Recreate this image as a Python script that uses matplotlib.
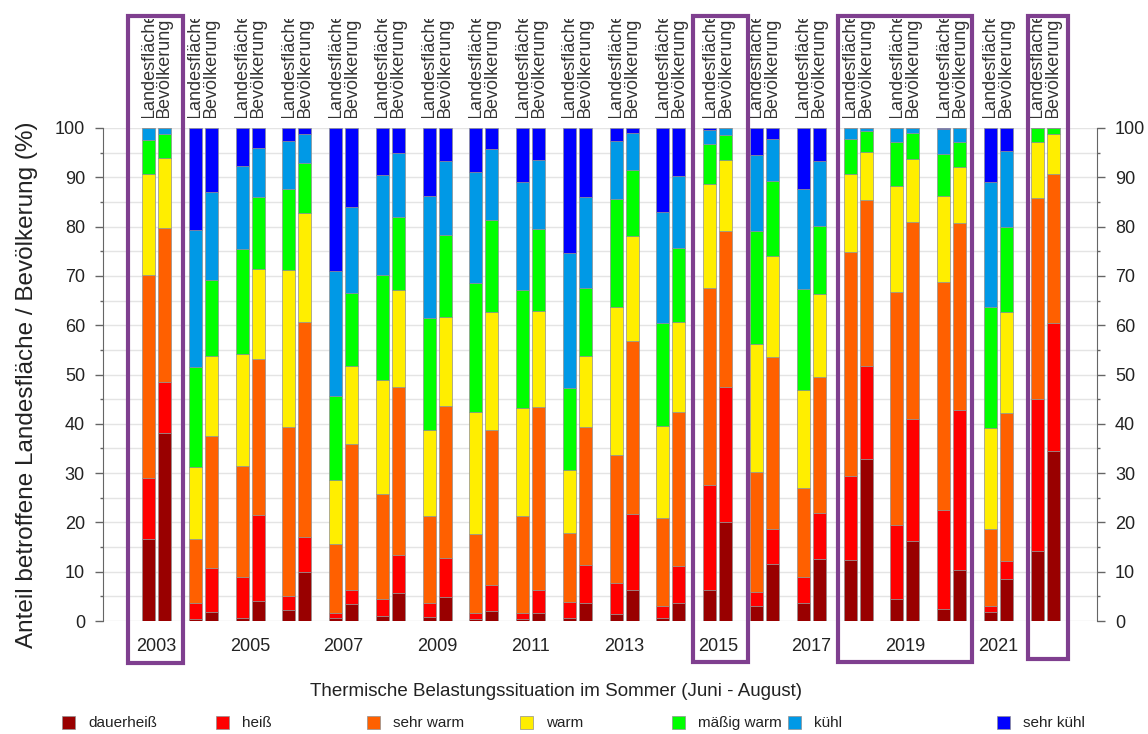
import numpy as np
import matplotlib
matplotlib.use("Agg")
import matplotlib.pyplot as plt
from matplotlib.patches import Rectangle
import matplotlib.transforms as mtransforms

plt.rcParams["font.family"] = ["Liberation Sans", "DejaVu Sans"]

# -----------------------------
# Data (share in %, per class)
# -----------------------------
years = list(range(2003, 2023))

classes = ["dauerheiß", "heiß", "sehr warm", "warm", "mäßig warm", "kühl", "sehr kühl"]
colors = ["#990000", "#ff0000", "#ff6000", "#ffee00", "#00ff00", "#0099e6", "#0000ff"]

# Landesfläche
flaeche_dauerheiss = [16.6, 0.5, 0.7, 2.2, 0.7, 1.1, 0.9, 0.5, 0.5, 0.7, 1.4, 0.7, 6.2, 3.0, 3.7, 12.4, 4.4, 2.4, 1.9, 14.2]
flaeche_heiss = [12.5, 3.1, 8.3, 2.9, 1.0, 3.4, 2.7, 1.1, 1.2, 3.2, 6.4, 2.3, 21.4, 2.9, 5.3, 17.0, 15.1, 20.1, 1.1, 30.8]
flaeche_sehr_warm = [41.1, 13.0, 22.5, 34.3, 13.9, 21.2, 17.6, 16.0, 19.5, 14.0, 25.9, 17.8, 40.0, 24.3, 17.9, 45.5, 47.3, 46.2, 15.7, 40.9]
flaeche_warm = [20.5, 14.7, 22.6, 31.8, 12.9, 23.2, 17.5, 24.7, 22.0, 12.7, 29.9, 18.8, 21.0, 26.0, 20.0, 15.8, 21.5, 17.5, 20.5, 11.3]
flaeche_maessig = [6.9, 20.3, 21.3, 16.5, 17.2, 21.3, 22.7, 26.2, 23.9, 16.7, 21.9, 20.9, 8.1, 23.0, 20.4, 7.0, 8.8, 8.5, 24.4, 2.8]
flaeche_kuehl = [2.4, 27.7, 16.9, 9.7, 25.2, 20.3, 24.8, 22.5, 22.0, 27.4, 11.9, 22.5, 2.9, 15.4, 20.4, 2.3, 2.9, 5.0, 25.4, 0.0]
flaeche_sehr_kuehl = [0.0, 20.7, 7.7, 2.6, 29.1, 9.5, 13.8, 9.0, 10.9, 25.3, 2.6, 17.0, 0.4, 5.4, 12.3, 0.0, 0.0, 0.3, 11.0, 0.0]

# Bevölkerung
bev_dauerheiss = [38.1, 1.9, 4.1, 10.0, 3.4, 5.6, 4.9, 2.0, 1.6, 3.6, 6.3, 3.6, 20.1, 11.6, 12.5, 32.8, 16.3, 10.3, 8.5, 34.5]
bev_heiss = [10.3, 8.8, 17.5, 7.0, 2.8, 7.8, 7.9, 5.3, 4.7, 7.8, 15.5, 7.6, 27.4, 7.0, 9.5, 18.9, 24.6, 32.4, 3.7, 26.0]
bev_sehr_warm = [31.4, 26.8, 31.5, 43.6, 29.7, 34.1, 30.9, 31.4, 37.1, 27.9, 34.9, 31.1, 31.6, 35.0, 27.4, 33.7, 40.0, 38.0, 29.9, 30.2]
bev_warm = [14.2, 16.3, 18.3, 22.1, 15.9, 19.6, 18.0, 24.0, 19.5, 14.5, 21.4, 18.4, 14.4, 20.4, 16.9, 9.7, 12.9, 11.4, 20.6, 8.0]
bev_maessig = [4.7, 15.4, 14.7, 10.1, 14.7, 14.9, 16.6, 18.6, 16.6, 13.7, 13.4, 14.9, 5.0, 15.3, 13.8, 4.2, 5.2, 5.0, 17.3, 1.3]
bev_kuehl = [1.3, 17.9, 9.9, 6.0, 17.4, 13.0, 15.1, 14.4, 14.0, 18.6, 7.5, 14.7, 1.5, 8.4, 13.3, 0.7, 1.0, 2.9, 15.3, 0.0]
bev_sehr_kuehl = [0.0, 12.9, 4.0, 1.2, 16.1, 5.0, 6.6, 4.3, 6.5, 13.9, 1.0, 9.7, 0.0, 2.3, 6.6, 0.0, 0.0, 0.0, 4.7, 0.0]

flaeche = [flaeche_dauerheiss, flaeche_heiss, flaeche_sehr_warm, flaeche_warm,
           flaeche_maessig, flaeche_kuehl, flaeche_sehr_kuehl]
bevoelkerung = [bev_dauerheiss, bev_heiss, bev_sehr_warm, bev_warm,
                bev_maessig, bev_kuehl, bev_sehr_kuehl]

# highlighted years (first, last, left / right offset of the purple frame, bottom in px)
highlights = [(2003, 2003, -0.60, 0.57, 663),
              (2015, 2015, -0.53, 0.65, 662),
              (2018, 2020, -0.42, 0.44, 662),
              (2022, 2022, -0.36, 0.49, 659)]

# -----------------------------
# Figure
# -----------------------------
W, H = 1148, 734
fig = plt.figure(figsize=(W / 100, H / 100), dpi=100)

ax = fig.add_axes([103 / W, (H - 621) / H, (1097 - 103) / W, (621 - 128) / H])

x = np.array(years, dtype=float)
off = 0.171
width = 0.278

bottom_l = np.zeros(len(years))
bottom_b = np.zeros(len(years))
for vals_l, vals_b, col in zip(flaeche, bevoelkerung, colors):
    ax.bar(x - off, vals_l, width, bottom=bottom_l, color=col,
           edgecolor="#909090", linewidth=0.5, zorder=3)
    ax.bar(x + off, vals_b, width, bottom=bottom_b, color=col,
           edgecolor="#909090", linewidth=0.5, zorder=3)
    bottom_l += np.array(vals_l)
    bottom_b += np.array(vals_b)

ax.set_xlim(2001.856, 2023.11)
ax.set_ylim(0, 100)

# grid every 5 %
for g in range(0, 101, 5):
    ax.axhline(g, color="#e4e4e4", linewidth=1, zorder=0)

ax.spines["top"].set_visible(False)
ax.spines["bottom"].set_visible(False)
for s in ["left", "right"]:
    ax.spines[s].set_color("#666666")
    ax.spines[s].set_bounds(0, 100)

ax.set_yticks(range(0, 101, 10))
ax.set_yticks(range(5, 100, 10), minor=True)
ax.tick_params(axis="y", which="major", length=6, width=1, color="#666666",
               labelsize=13, labelcolor="#222222", pad=7,
               left=True, right=True, labelleft=True, labelright=True)
ax.tick_params(axis="y", which="minor", length=2.5, width=1, color="#666666",
               left=True, right=True)

ax.set_xticks(years[::2])
ax.set_xticklabels([str(y) for y in years[::2]])
ax.tick_params(axis="x", length=0, labelsize=13, labelcolor="#222222", pad=12)

ax.set_ylabel("Anteil betroffene Landesfläche / Bevölkerung (%)", fontsize=17.5,
              color="#222222")
ax.yaxis.set_label_coords(-0.065, 0.48)

# -----------------------------
# Column headers (clipped at the top like the original)
# -----------------------------
hax = fig.add_axes([103 / W, (H - 118) / H, (1097 - 103) / W, (118 - 19) / H])
hax.set_xlim(ax.get_xlim())
hax.set_ylim(0, 1)
hax.axis("off")
for yr in years:
    hax.text(yr - off, 0, "Landesfläche", rotation=90, ha="center", va="bottom",
             fontsize=13, color="#333333", clip_on=True)
    hax.text(yr + off, 0, "Bevölkerung", rotation=90, ha="center", va="bottom",
             fontsize=13, color="#333333", clip_on=True)

# -----------------------------
# Purple frames
# -----------------------------
trans = mtransforms.blended_transform_factory(ax.transData, fig.transFigure)
top_y = (H - 16) / H
for y0, y1, lo, hi, bot in highlights:
    bot_y = (H - bot) / H
    rect = Rectangle((y0 + lo, bot_y), (y1 + hi) - (y0 + lo), top_y - bot_y,
                     transform=trans, fill=False, edgecolor="#7f3f8f",
                     linewidth=3, clip_on=False, zorder=10)
    fig.add_artist(rect)

# -----------------------------
# Legend
# -----------------------------
fig.text(556 / W, (H - 692) / H, "Thermische Belastungssituation im Sommer (Juni - August)",
         ha="center", va="center", fontsize=13.5, color="#222222")

leg_x = [62, 216, 367, 520, 672, 788, 997]
for lx, name, col in zip(leg_x, classes, colors):
    fig.add_artist(Rectangle((lx / W, (H - 729) / H), 13 / W, 13 / H,
                             transform=fig.transFigure, facecolor=col,
                             edgecolor="#909090", linewidth=0.5))
    fig.text((lx + 26) / W, (H - 723) / H, name, ha="left", va="center",
             fontsize=11, color="#222222")

fig.savefig("out.png", dpi=100)
